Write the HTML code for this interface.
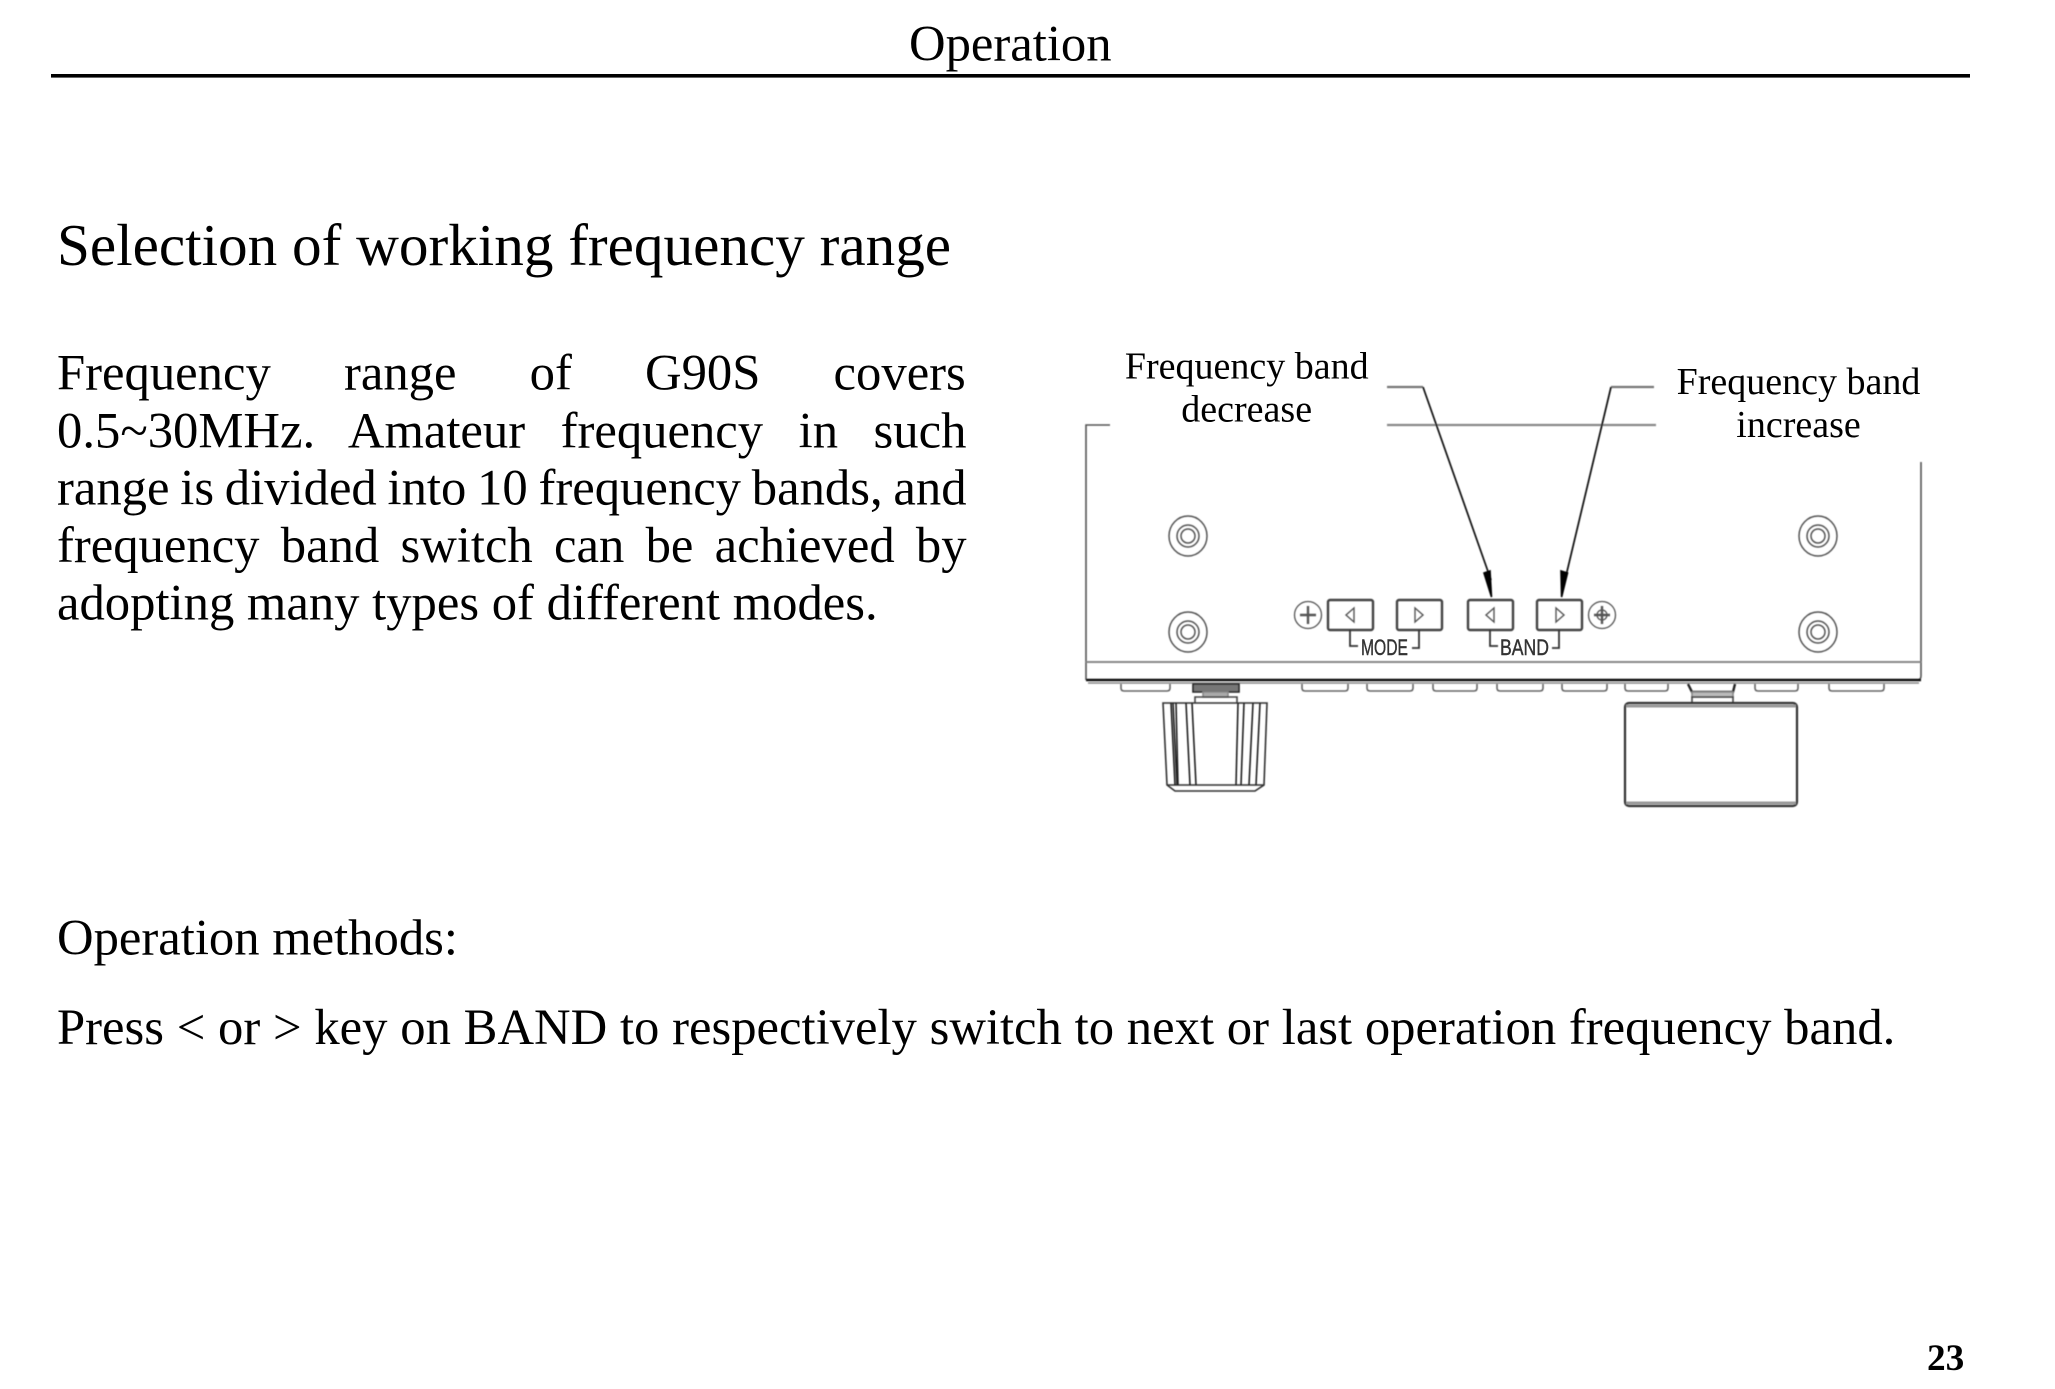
<!DOCTYPE html>
<html><head><meta charset="utf-8"><title>Operation</title>
<style>
html,body{margin:0;padding:0;background:#fff}
svg{display:block}
text{font-family:"Liberation Serif",serif;fill:#000}
.b{font-size:50.67px}
.l{font-size:38px;text-anchor:middle}
.s{font-family:"Liberation Sans",sans-serif;font-size:22px;fill:#333;stroke:#333;stroke-width:.4px}
</style></head><body>
<svg width="2055" height="1389" viewBox="0 0 2055 1389" xmlns="http://www.w3.org/2000/svg">
<defs><filter id="bl" x="-5%" y="-5%" width="110%" height="110%"><feGaussianBlur stdDeviation="0.55"/></filter></defs>
<text class="b" x="909" y="60.5">Operation</text>
<rect x="51" y="74" width="1919" height="3.6" fill="#000"/>
<text x="57" y="265" style="font-size:59.2px">Selection of working frequency range</text>
<text class="b" x="57" y="389.3" style="word-spacing:60.5px">Frequency range of G90S covers</text>
<text class="b" x="57" y="447.5" style="word-spacing:22.85px">0.5~30MHz. Amateur frequency in such</text>
<text class="b" x="57" y="504.7" style="word-spacing:-1.9px">range is divided into 10 frequency bands, and</text>
<text class="b" x="57" y="562.2" style="word-spacing:8.6px">frequency band switch can be achieved by</text>
<text class="b" x="57" y="619.5">adopting many types of different modes.</text>
<text class="b" x="57" y="954.3">Operation methods:</text>
<text class="b" x="57" y="1044" style="word-spacing:.1px">Press &lt; or &gt; key on BAND to respectively switch to next or last operation frequency band.</text>
<text x="1927" y="1370" style="font-size:37.3px;font-weight:bold">23</text>

<g filter="url(#bl)" fill="none" stroke="#333" stroke-width="1.6">
<!-- body outline -->
<path d="M1086 680V425H1110" stroke="#555"/>
<path d="M1387 425H1656" stroke="#888" stroke-width="2.2"/>
<path d="M1921 462V676q0 4-4 4" stroke="#555"/>
<path d="M1086 662H1921" stroke="#888" stroke-width="2"/>
<path d="M1086 680H1921" stroke="#111" stroke-width="2.4"/>
<path d="M1088 683H1919" stroke="#888" stroke-width="1.4"/>
<!-- leaders -->
<path d="M1387 387H1423" stroke="#777" stroke-width="2.2"/>
<path d="M1654 387H1611" stroke="#777" stroke-width="2.2"/>
<path d="M1423 387L1491 580" stroke="#111" stroke-width="1.7"/>
<path d="M1611 387L1565 580" stroke="#111" stroke-width="1.7"/>
<path d="M1491.5 597L1484 573L1490 571Z" fill="#000" stroke="#000"/>
<path d="M1561.6 597L1561 571L1567.5 573Z" fill="#000" stroke="#000"/>
<!-- screws -->
<g stroke="#555" stroke-width="1.5">
<ellipse cx="1188" cy="536" rx="19" ry="20"/><circle cx="1188" cy="536" r="11"/><circle cx="1188" cy="536" r="7"/>
<ellipse cx="1188" cy="632" rx="19" ry="20"/><circle cx="1188" cy="632" r="11"/><circle cx="1188" cy="632" r="7"/>
<ellipse cx="1818" cy="536" rx="19" ry="20"/><circle cx="1818" cy="536" r="11"/><circle cx="1818" cy="536" r="7"/>
<ellipse cx="1818" cy="632" rx="19" ry="20"/><circle cx="1818" cy="632" r="11"/><circle cx="1818" cy="632" r="7"/>
</g>
<!-- small screws -->
<g stroke="#555" stroke-width="1.3">
<circle cx="1308" cy="615" r="13.5"/><circle cx="1602" cy="615" r="13.5"/>
<path d="M1308 606V624M1300 615H1316" stroke-width="2.4"/>
<path d="M1602 606V624M1594 615H1610" stroke-width="2.4"/>
<circle cx="1602" cy="615" r="5"/>
</g>
<!-- buttons -->
<g stroke="#444" stroke-width="2.4">
<rect x="1328" y="600" width="45" height="30" rx="2"/>
<rect x="1397" y="600" width="45" height="30" rx="2"/>
<rect x="1468" y="600" width="45" height="30" rx="2"/>
<rect x="1537" y="600" width="45" height="30" rx="2"/>
</g>
<g stroke="#555" stroke-width="1.4">
<path d="M1354 608L1346 615L1354 622Z"/>
<path d="M1415 608L1423 615L1415 622Z"/>
<path d="M1494 608L1486 615L1494 622Z"/>
<path d="M1556 608L1564 615L1556 622Z"/>
<path d="M1350 630V646H1358M1419 630V648H1412M1490 630V646H1498M1559 630V648H1552" stroke="#333" stroke-width="1.8"/>
</g>
<!-- feet -->
<g stroke="#666" stroke-width="1.6">
<path d="M1121 684v4q0 3 3 3h43q3 0 3-3v-4"/>
<path d="M1302 684v4q0 3 3 3h40q3 0 3-3v-4"/>
<path d="M1367 684v4q0 3 3 3h40q3 0 3-3v-4"/>
<path d="M1433 684v4q0 3 3 3h38q3 0 3-3v-4"/>
<path d="M1497 684v4q0 3 3 3h40q3 0 3-3v-4"/>
<path d="M1562 684v4q0 3 3 3h39q3 0 3-3v-4"/>
<path d="M1625 684v4q0 3 3 3h37q3 0 3-3v-4"/>
<path d="M1755 684v4q0 3 3 3h37q3 0 3-3v-4"/>
<path d="M1829 684v4q0 3 3 3h49q3 0 3-3v-4"/>
</g>
<!-- left knob -->
<path d="M1193 684H1239V692H1193Z" fill="#777" stroke="#222"/>
<path d="M1203 692H1228V697H1203Z" fill="#aaa" stroke="#888"/>
<path d="M1195 703V697H1237V703" stroke="#444"/>
<path d="M1163 703H1267L1264 785L1255 791H1175L1167 785Z" stroke="#333"/>
<path d="M1167 785H1264" stroke="#333"/>
<path d="M1171 703L1175 785M1173 703L1177 785M1176 703L1178 785M1186 703L1190 785M1192 703L1196 785M1238 703L1236 785M1244 703L1241 785M1260 703L1256 785M1253 703L1249 785" stroke="#222"/>
<!-- right knob -->
<path d="M1688 684L1692 692H1733L1735 684" stroke="#222" stroke-width="2.4"/>
<path d="M1692 692H1733V697H1692Z" fill="#bbb" stroke="#888"/>
<path d="M1692 703V697H1733V703" stroke="#444"/>
<rect x="1625" y="703" width="172" height="103" rx="4" stroke="#333" stroke-width="2.2"/>
<path d="M1626 706H1796" stroke="#999" stroke-width="3"/>
<path d="M1626 803H1796" stroke="#999" stroke-width="3"/>
</g>
<text class="s" x="1361" y="655" textLength="47" lengthAdjust="spacingAndGlyphs">MODE</text>
<text class="s" x="1500" y="655" textLength="49" lengthAdjust="spacingAndGlyphs">BAND</text>
<text class="l" x="1246.7" y="378.5">Frequency band</text>
<text class="l" x="1246.7" y="421.5">decrease</text>
<text class="l" x="1798.5" y="394">Frequency band</text>
<text class="l" x="1798.5" y="437">increase</text>
</svg>
</body></html>
